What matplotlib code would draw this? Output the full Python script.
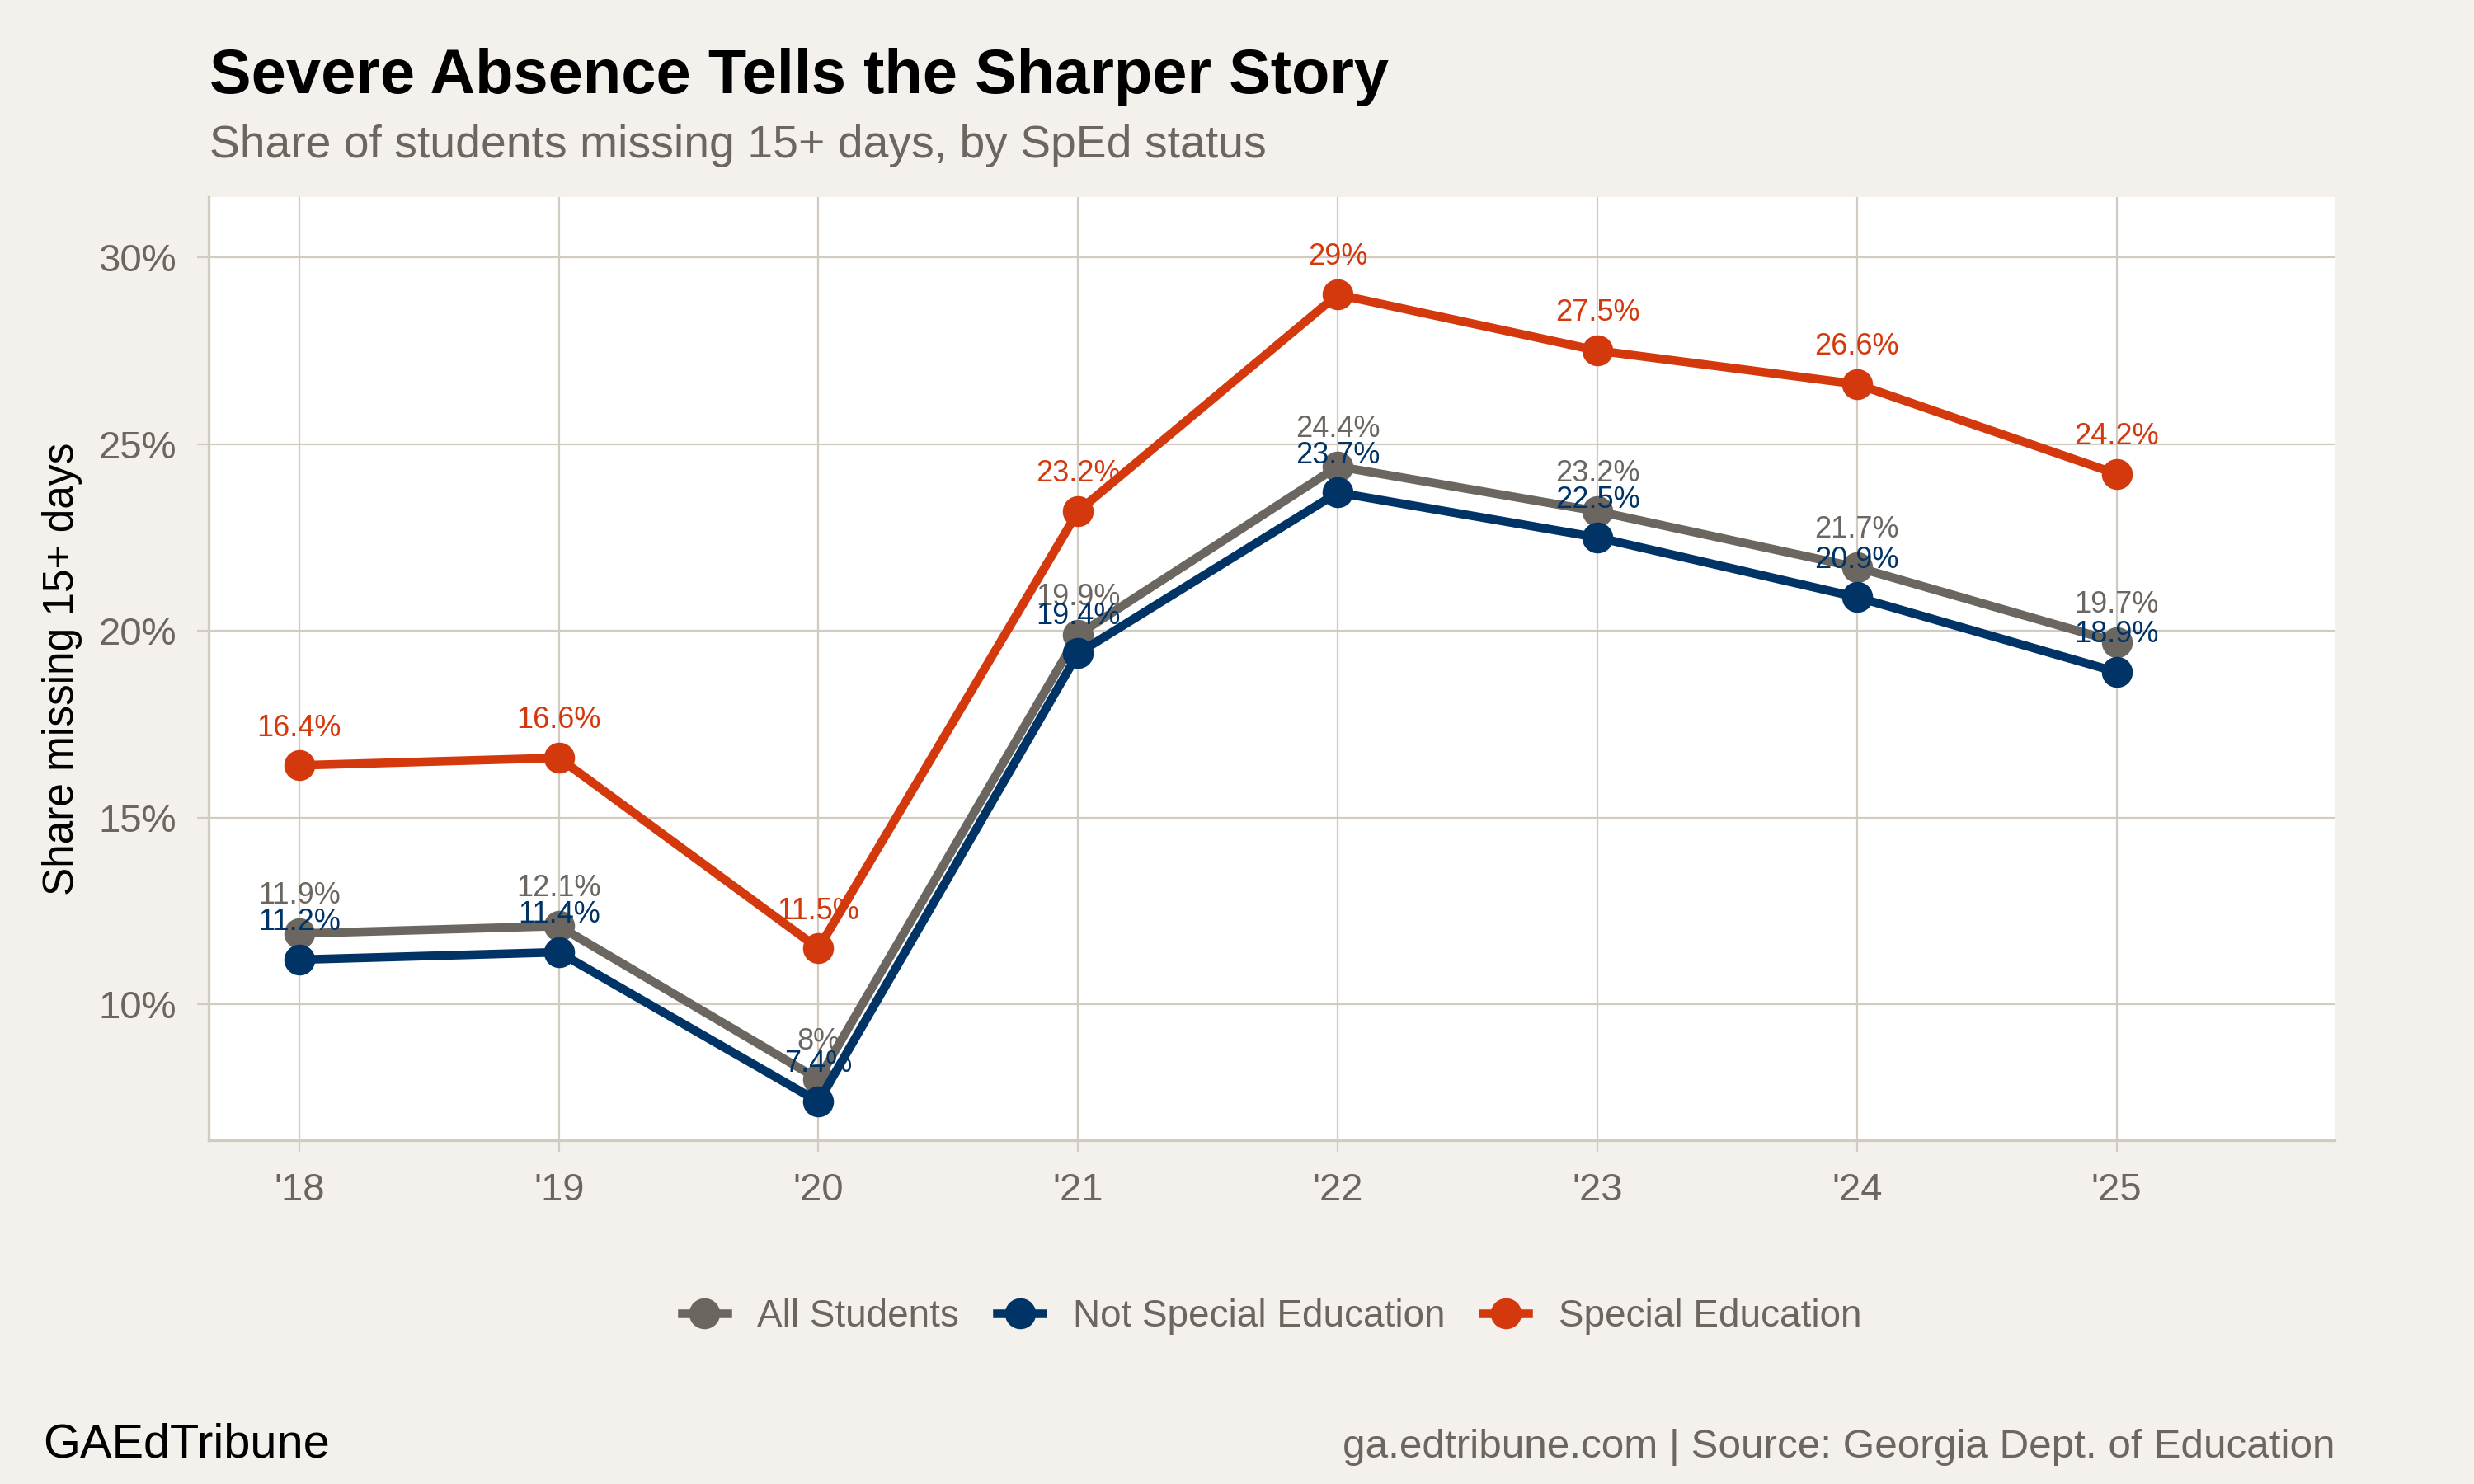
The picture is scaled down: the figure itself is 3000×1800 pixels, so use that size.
import matplotlib
matplotlib.use("Agg")
import matplotlib.pyplot as plt
from matplotlib.lines import Line2D

# dados
anos = [18, 19, 20, 21, 22, 23, 24, 25]
rotulos_anos = ["'18", "'19", "'20", "'21", "'22", "'23", "'24", "'25"]
todos = [11.9, 12.1, 8.0, 19.9, 24.4, 23.2, 21.7, 19.7]
nao_sped = [11.2, 11.4, 7.4, 19.4, 23.7, 22.5, 20.9, 18.9]
sped = [16.4, 16.6, 11.5, 23.2, 29.0, 27.5, 26.6, 24.2]
series_nomes = ["All Students", "Not Special Education", "Special Education"]

cinza = "#6b6660"
azul = "#003366"
laranja = "#d4390d"
fundo = "#f4f1ec"
grade = "#d2cbc1"

plt.rcParams["font.family"] = ["Liberation Sans", "DejaVu Sans"]

fig = plt.figure(figsize=(15, 9), dpi=200, facecolor=fundo)
ax = fig.add_axes([0.0842, 0.2317, 0.8595, 0.6353])
ax.set_facecolor("white")

for valores, cor, nome in [(todos, cinza, series_nomes[0]),
                           (nao_sped, azul, series_nomes[1]),
                           (sped, laranja, series_nomes[2])]:
    ax.plot(anos, valores, color=cor, lw=3.8, marker="o", ms=12.5, zorder=3,
            solid_joinstyle="round", label=nome)
    for x, v in zip(anos, valores):
        txt = f"{v:g}%"
        ax.text(x, v + 1.0, txt, color=cor, fontsize=13, ha="center",
                va="center", zorder=4)

ax.set_xlim(17.65, 25.84)
ax.set_ylim(6.37, 31.6)
ax.set_xticks(anos)
ax.set_xticklabels(rotulos_anos)
ax.set_yticks([10, 15, 20, 25, 30])
ax.set_yticklabels(["10%", "15%", "20%", "25%", "30%"])
ax.grid(True, color=grade, lw=0.8, zorder=0)
ax.set_axisbelow(True)
for lado in ["top", "right"]:
    ax.spines[lado].set_visible(False)
for lado in ["left", "bottom"]:
    ax.spines[lado].set_color(grade)
    ax.spines[lado].set_linewidth(1.2)
ax.tick_params(colors=grade, length=5, width=0.8, labelcolor=cinza,
               labelsize=17, pad=9)
ax.set_ylabel("Share missing 15+ days", fontsize=18.5, color="black", labelpad=7)

fig.text(0.0845, 0.937, "Severe Absence Tells the Sharper Story",
         fontsize=27.3, fontweight="bold", color="black", ha="left", va="baseline")
fig.text(0.0845, 0.894, "Share of students missing 15+ days, by SpEd status",
         fontsize=19.9, color=cinza, ha="left", va="baseline")

handles = [Line2D([0], [0], color=c, lw=3.8, marker="o", ms=12.5)
           for c in [cinza, azul, laranja]]
fig.legend(handles, series_nomes, loc="center", bbox_to_anchor=(0.514, 0.1127),
           ncol=3, frameon=False, fontsize=16.5, labelcolor=cinza,
           handlelength=1.2, columnspacing=1.0, handletextpad=0.8)

fig.text(0.0173, 0.018, "GAEdTribune", fontsize=20.8, color="black",
         ha="left", va="baseline")
fig.text(0.9437, 0.018, "ga.edtribune.com | Source: Georgia Dept. of Education",
         fontsize=17.8, color=cinza, ha="right", va="baseline")

fig.savefig("out.png", dpi=200, facecolor=fundo)
